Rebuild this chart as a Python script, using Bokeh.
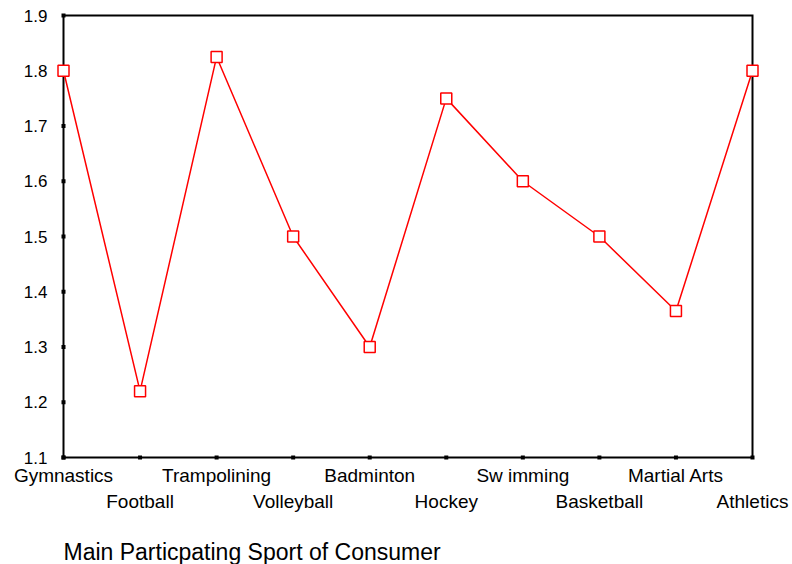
from bokeh.plotting import figure
from bokeh.models import Range1d, ColumnDataSource
from bokeh.core.properties import value
from bokeh.embed import file_html
from bokeh.resources import INLINE

categories = ["Gymnastics", "Football", "Trampolining", "Volleyball", "Badminton",
              "Hockey", "Sw imming", "Basketball", "Martial Arts", "Athletics"]
values = [1.80, 1.22, 1.825, 1.50, 1.30, 1.75, 1.60, 1.50, 1.365, 1.80]
y_ticks = [1.1, 1.2, 1.3, 1.4, 1.5, 1.6, 1.7, 1.8, 1.9]
y_tick_labels = ["1.1", "1.2", "1.3", "1.4", "1.5", "1.6", "1.7", "1.8", "1.9"]
x_title = "Main Particpating Sport of Consumer"

FONT = "Liberation Sans"
W, H = 792, 564
BOX_L, BOX_R, BOX_T, BOX_B = 63, 752, 15, 457   # axis box in pixels
ROW1, ROW2, TITLE_OFF = 18, 44, 94               # pixel offsets below the box
YLAB_OFF = 16                                    # pixel gap left of the box

xs = list(range(len(categories)))
x0, x1 = xs[0], xs[-1]
y0, y1 = y_ticks[0], y_ticks[-1]
xpx = (x1 - x0) / (BOX_R - BOX_L)
ypx = (y1 - y0) / (BOX_B - BOX_T)

src = ColumnDataSource(dict(x=xs, y=values))

# the frame covers the whole canvas so no text or marker is clipped;
# the ranges are set so that the axis box lands where it should
p = figure(width=W, height=H, output_backend="svg", toolbar_location=None,
           x_range=Range1d(x0 - BOX_L * xpx, x1 + (W - BOX_R) * xpx),
           y_range=Range1d(y0 - (H - BOX_B) * ypx, y1 + BOX_T * ypx),
           x_axis_location=None, y_axis_location=None)
p.min_border = 0
p.min_border_top = 0
p.min_border_left = 0
p.min_border_right = 0
p.min_border_bottom = 0
p.outline_line_color = None
p.xgrid.visible = False
p.ygrid.visible = False
p.background_fill_color = "white"
p.border_fill_color = "white"

# y tick labels
p.text(x=[x0] * len(y_ticks), y=y_ticks, text=y_tick_labels, x_offset=-YLAB_OFF,
       text_align="right", text_baseline="middle",
       text_font=value(FONT), text_font_size="17px", text_color="black")

# category labels, alternating between two rows
even = [i for i in xs if i % 2 == 0]
odd = [i for i in xs if i % 2 == 1]
p.text(x=even, y=[y0] * len(even), text=[categories[i] for i in even],
       y_offset=ROW1, text_align="center", text_baseline="middle",
       text_font=value(FONT), text_font_size="19px", text_color="black")
p.text(x=odd, y=[y0] * len(odd), text=[categories[i] for i in odd],
       y_offset=ROW2, text_align="center", text_baseline="middle",
       text_font=value(FONT), text_font_size="19px", text_color="black")
p.text(x=[x0], y=[y0], text=[x_title], y_offset=TITLE_OFF,
       text_align="left", text_baseline="middle",
       text_font=value(FONT), text_font_size="23px", text_color="black")

# axis box
p.rect(x=[(x0 + x1) / 2], y=[(y0 + y1) / 2], width=[x1 - x0], height=[y1 - y0],
       fill_color=None, line_color="black", line_width=2, line_join="miter")
# tick marks
p.scatter(x=[x0] * len(y_ticks), y=y_ticks, marker="square", size=4,
          fill_color="black", line_color="black", line_width=0)
p.scatter(x=xs, y=[y0] * len(xs), marker="square", size=4,
          fill_color="black", line_color="black", line_width=0)

p.line("x", "y", source=src, line_color="red", line_width=1.5)
p.scatter("x", "y", source=src, marker="square", size=11, fill_color="white",
          line_color="red", line_width=1.5)

open("out.html", "w").write(file_html(p, INLINE))
